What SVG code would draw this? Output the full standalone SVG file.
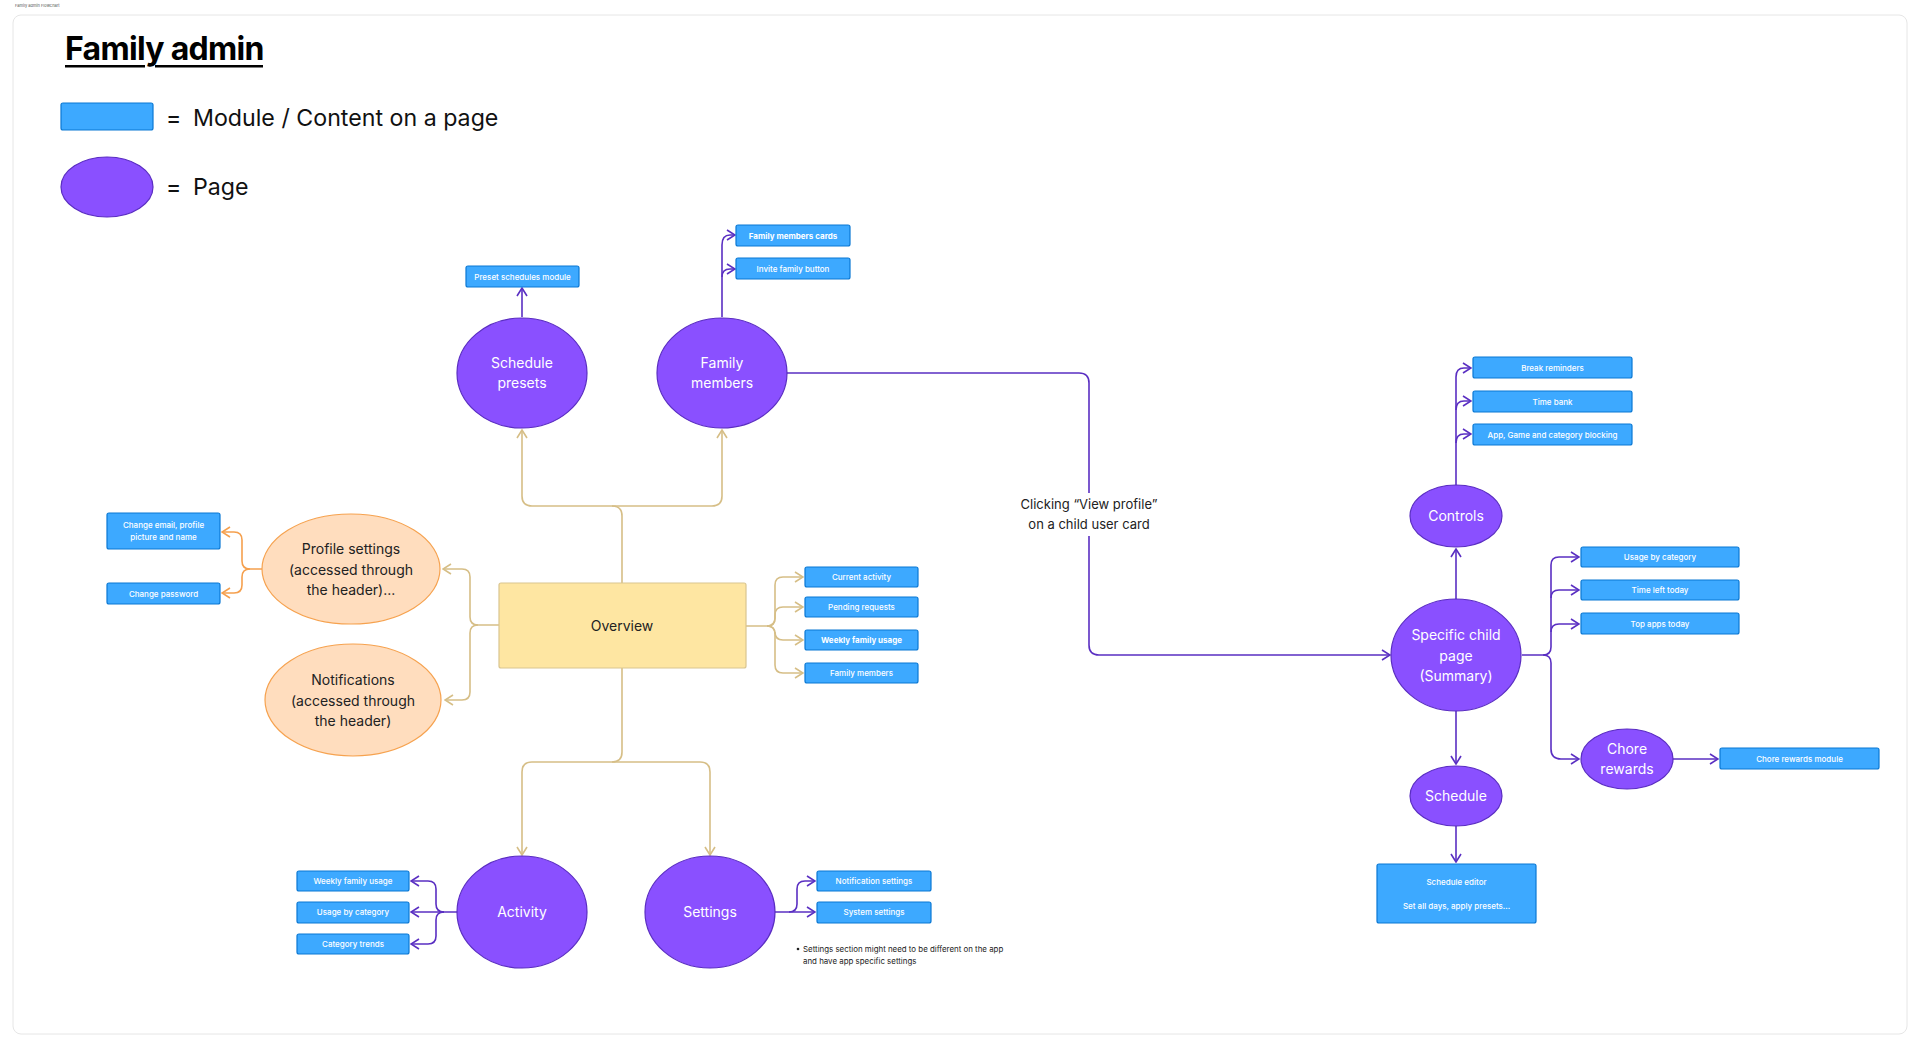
<svg xmlns="http://www.w3.org/2000/svg" width="1920" height="1048" viewBox="0 0 1920 1048">
<style>
text{font-family:Inter,"Noto Sans","Liberation Sans",sans-serif}
.pg{fill:#8A50FF;stroke:#5A2DC2;stroke-width:1.2}
.pt{fill:#fff;font-size:14px;text-anchor:middle}
.md{fill:#3DA9FF;stroke:#0A78D4;stroke-width:1.2}
.mt{fill:#fff;font-size:8px;text-anchor:middle;font-weight:500}
.mb{font-weight:700}
.or{fill:#FFDDBE;stroke:#F6A24F;stroke-width:1.2}
.ot{fill:#222;font-size:14px;text-anchor:middle}
.cp{fill:none;stroke:#5A2FC2;stroke-width:1.6;marker-end:url(#ap)}
.ct{fill:none;stroke:#D6BE86;stroke-width:1.6;marker-end:url(#at)}
.co{fill:none;stroke:#F5A04E;stroke-width:1.6;marker-end:url(#ao)}
.lg{font-size:23.2px;fill:#111}
</style>
<defs>
<marker id="ap" viewBox="0 0 10 12" refX="9" refY="6" markerWidth="10" markerHeight="12" orient="auto" markerUnits="userSpaceOnUse"><path d="M1,1 L9,6 L1,11" fill="none" stroke="#5A2FC2" stroke-width="1.6"/></marker>
<marker id="at" viewBox="0 0 10 12" refX="9" refY="6" markerWidth="10" markerHeight="12" orient="auto" markerUnits="userSpaceOnUse"><path d="M1,1 L9,6 L1,11" fill="none" stroke="#D6BE86" stroke-width="1.6"/></marker>
<marker id="ao" viewBox="0 0 10 12" refX="9" refY="6" markerWidth="10" markerHeight="12" orient="auto" markerUnits="userSpaceOnUse"><path d="M1,1 L9,6 L1,11" fill="none" stroke="#F5A04E" stroke-width="1.6"/></marker>
</defs>
<rect width="1920" height="1048" fill="#fff"/>
<text x="15" y="7" font-size="4" fill="#555">Family admin Flowchart</text>
<rect x="13" y="15" width="1894" height="1019" rx="8" fill="#fff" stroke="#E6E6E6" stroke-width="1"/>

<g id="legend">
<text x="65" y="60" font-size="32" font-weight="700" fill="#000" letter-spacing="-0.7">Family admin</text>
<rect x="65" y="65" width="80" height="2.5" fill="#000"/>
<rect x="155" y="65" width="108" height="2.5" fill="#000"/>
<rect x="61" y="103" width="92" height="27" rx="2" class="md"/>
<text x="166" y="126" class="lg">=</text>
<text x="193" y="126" class="lg">Module / Content on a page</text>
<ellipse cx="107" cy="187" rx="46" ry="30" class="pg"/>
<text x="166" y="195" class="lg">=</text>
<text x="193" y="195" class="lg">Page</text>
</g>

<g id="connectors">
<path class="ct" d="M622,583 V516 Q622,506 612,506 H532 Q522,506 522,496 V430"/>
<path class="ct" d="M612,506 H712 Q722,506 722,496 V430"/>
<path class="ct" d="M622,668 V752 Q622,762 612,762 H532 Q522,762 522,772 V855"/>
<path class="ct" d="M612,762 H700 Q710,762 710,772 V855"/>
<path class="ct" d="M499,625 H478 Q470,625 470,617 V577 Q470,569 462,569 H443"/>
<path class="ct" d="M478,625 Q470,625 470,633 V692 Q470,700 462,700 H445"/>
<path class="ct" d="M746,626 H767 Q775,626 775,618 V585 Q775,577 783,577 H803"/>
<path class="ct" d="M767,626 Q775,626 775,618 V615 Q775,607 783,607 H803"/>
<path class="ct" d="M767,626 Q775,626 775,634 V632 Q775,640 783,640 H803"/>
<path class="ct" d="M767,626 Q775,626 775,634 V665 Q775,673 783,673 H803"/>
<path class="co" d="M262,569 H250 Q242,569 242,561 V540 Q242,532 234,532 H222"/>
<path class="co" d="M250,569 Q242,569 242,577 V585 Q242,593 234,593 H222"/>
<path class="cp" d="M522,317 V288"/>
<path class="cp" d="M722,317 V245 Q722,235 730,235 H735"/>
<path class="cp" d="M722,277 Q722,269 730,269 H735"/>
<path class="cp" d="M787,373 H1079 Q1089,373 1089,383 V645 Q1089,655 1099,655 H1390"/>
<path class="cp" d="M458,912 H411"/>
<path class="cp" d="M444,912 Q436,912 436,904 V889 Q436,881 428,881 H411"/>
<path class="cp" d="M444,912 Q436,912 436,920 V936 Q436,944 428,944 H411"/>
<path class="cp" d="M775,912 H815"/>
<path class="cp" d="M789,912 Q797,912 797,904 V889 Q797,881 805,881 H815"/>
<path class="cp" d="M1456,486 V377 Q1456,368 1464,368 H1471"/>
<path class="cp" d="M1456,410 Q1456,401 1464,401 H1471"/>
<path class="cp" d="M1456,443 Q1456,434 1464,434 H1471"/>
<path class="cp" d="M1456,599 V549"/>
<path class="cp" d="M1522,655 H1543 Q1551,655 1551,647 V565 Q1551,557 1559,557 H1579"/>
<path class="cp" d="M1551,598 Q1551,590 1559,590 H1579"/>
<path class="cp" d="M1551,632 Q1551,624 1559,624 H1579"/>
<path class="cp" d="M1543,655 Q1551,655 1551,663 V749 Q1551,759 1561,759 H1579"/>
<path class="cp" d="M1673,759 H1718"/>
<path class="cp" d="M1456,711 V764"/>
<path class="cp" d="M1456,826 V862"/>
<rect x="1020" y="493" width="138" height="43" fill="#fff"/>
<text x="1089" y="509" font-size="13" fill="#222" text-anchor="middle">Clicking “View profile”</text>
<text x="1089" y="529" font-size="13" fill="#222" text-anchor="middle">on a child user card</text>
</g>

<g id="overview">
<rect x="499" y="583" width="247" height="85" rx="2" fill="#FEE6A2" stroke="#D9C590" stroke-width="1.2"/>
<text x="622" y="631" font-size="14" fill="#222" text-anchor="middle">Overview</text>
</g>

<g id="schedule-presets">
<ellipse cx="522" cy="373" rx="65" ry="55" class="pg"/>
<text x="522" y="368" class="pt">Schedule</text>
<text x="522" y="388" class="pt">presets</text>
</g>
<g id="preset-schedules-module">
<rect x="466" y="266" width="113" height="21" rx="2" class="md"/>
<text x="522.5" y="279.5" class="mt">Preset schedules module</text>
</g>

<g id="family-members">
<ellipse cx="722" cy="373" rx="65" ry="55" class="pg"/>
<text x="722" y="368" class="pt">Family</text>
<text x="722" y="388" class="pt">members</text>
</g>
<g id="family-members-cards">
<rect x="736" y="225" width="114" height="21" rx="2" class="md"/>
<text x="793" y="238.5" class="mt mb">Family members cards</text>
</g>
<g id="invite-family-button">
<rect x="736" y="258" width="114" height="21" rx="2" class="md"/>
<text x="793" y="271.5" class="mt">Invite family button</text>
</g>

<g id="profile-settings">
<ellipse cx="351" cy="569" rx="89" ry="55" class="or"/>
<text x="351" y="554" class="ot">Profile settings</text>
<text x="351" y="575" class="ot">(accessed through</text>
<text x="351" y="595" class="ot">the header)...</text>
</g>
<g id="change-email">
<rect x="107" y="513" width="113" height="36" rx="2" class="md"/>
<text x="163.5" y="528" class="mt">Change email, profile</text>
<text x="163.5" y="540" class="mt">picture and name</text>
</g>
<g id="change-password">
<rect x="107" y="583" width="113" height="21" rx="2" class="md"/>
<text x="163.5" y="596.5" class="mt">Change password</text>
</g>

<g id="notifications">
<ellipse cx="353" cy="700" rx="88" ry="56" class="or"/>
<text x="353" y="685" class="ot">Notifications</text>
<text x="353" y="706" class="ot">(accessed through</text>
<text x="353" y="726" class="ot">the header)</text>
</g>

<g id="current-activity"><rect x="805" y="567" width="113" height="20" rx="2" class="md"/><text x="861.5" y="580" class="mt">Current activity</text></g>
<g id="pending-requests"><rect x="805" y="597" width="113" height="20" rx="2" class="md"/><text x="861.5" y="610" class="mt">Pending requests</text></g>
<g id="weekly-family-usage-ov"><rect x="805" y="630" width="113" height="20" rx="2" class="md"/><text x="861.5" y="643" class="mt mb">Weekly family usage</text></g>
<g id="family-members-ov"><rect x="805" y="663" width="113" height="20" rx="2" class="md"/><text x="861.5" y="676" class="mt">Family members</text></g>

<g id="activity">
<ellipse cx="522" cy="912" rx="65" ry="56" class="pg"/>
<text x="522" y="917" class="pt">Activity</text>
</g>
<g id="weekly-family-usage"><rect x="297" y="871" width="112" height="20" rx="2" class="md"/><text x="353" y="884" class="mt">Weekly family usage</text></g>
<g id="usage-by-category"><rect x="297" y="902" width="112" height="21" rx="2" class="md"/><text x="353" y="915" class="mt">Usage by category</text></g>
<g id="category-trends"><rect x="297" y="934" width="112" height="20" rx="2" class="md"/><text x="353" y="947" class="mt">Category trends</text></g>

<g id="settings">
<ellipse cx="710" cy="912" rx="65" ry="56" class="pg"/>
<text x="710" y="917" class="pt">Settings</text>
</g>
<g id="notification-settings"><rect x="817" y="871" width="114" height="20" rx="2" class="md"/><text x="874" y="884" class="mt">Notification settings</text></g>
<g id="system-settings"><rect x="817" y="902" width="114" height="21" rx="2" class="md"/><text x="874" y="915" class="mt">System settings</text></g>
<g id="settings-note">
<circle cx="798" cy="949" r="1.3" fill="#222"/>
<text x="803" y="952" font-size="7.9" fill="#222">Settings section might need to be different on the app</text>
<text x="803" y="964" font-size="7.9" fill="#222">and have app specific settings</text>
</g>

<g id="controls">
<ellipse cx="1456" cy="516" rx="46" ry="31" class="pg"/>
<text x="1456" y="521" class="pt">Controls</text>
</g>
<g id="break-reminders"><rect x="1473" y="357" width="159" height="21" rx="2" class="md"/><text x="1552.5" y="370.5" class="mt">Break reminders</text></g>
<g id="time-bank"><rect x="1473" y="391" width="159" height="21" rx="2" class="md"/><text x="1552.5" y="404.5" class="mt">Time bank</text></g>
<g id="app-blocking"><rect x="1473" y="424" width="159" height="21" rx="2" class="md"/><text x="1552.5" y="437.5" class="mt">App, Game and category blocking</text></g>

<g id="specific-child">
<ellipse cx="1456" cy="655" rx="65" ry="56" class="pg"/>
<text x="1456" y="640" class="pt">Specific child</text>
<text x="1456" y="661" class="pt">page</text>
<text x="1456" y="681" class="pt">(Summary)</text>
</g>
<g id="usage-by-category-child"><rect x="1581" y="547" width="158" height="20" rx="2" class="md"/><text x="1660" y="560" class="mt">Usage by category</text></g>
<g id="time-left-today"><rect x="1581" y="580" width="158" height="20" rx="2" class="md"/><text x="1660" y="593" class="mt">Time left today</text></g>
<g id="top-apps-today"><rect x="1581" y="613" width="158" height="21" rx="2" class="md"/><text x="1660" y="626.5" class="mt">Top apps today</text></g>

<g id="chore-rewards">
<ellipse cx="1627" cy="759" rx="46" ry="30" class="pg"/>
<text x="1627" y="754" class="pt">Chore</text>
<text x="1627" y="774" class="pt">rewards</text>
</g>
<g id="chore-rewards-module"><rect x="1720" y="748" width="159" height="21" rx="2" class="md"/><text x="1799.5" y="761.5" class="mt">Chore rewards module</text></g>

<g id="schedule">
<ellipse cx="1456" cy="796" rx="46" ry="30" class="pg"/>
<text x="1456" y="801" class="pt">Schedule</text>
</g>
<g id="schedule-editor">
<rect x="1377" y="864" width="159" height="59" rx="2" class="md"/>
<text x="1456.5" y="885" class="mt">Schedule editor</text>
<text x="1456.5" y="909" class="mt">Set all days, apply presets...</text>
</g>
</svg>
